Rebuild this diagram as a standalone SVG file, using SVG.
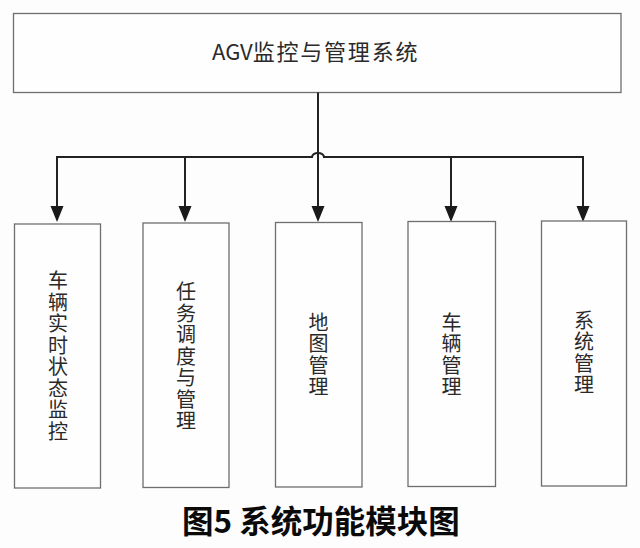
<svg xmlns="http://www.w3.org/2000/svg" width="640" height="548" viewBox="0 0 640 548">
  <style>
    .box{fill:#fefefe;stroke:#6e6e6e;stroke-width:1.3}
    .lbl{font-family:"Noto Sans CJK SC","Noto Sans",sans-serif;font-size:20px;fill:#2a2a2a;writing-mode:vertical-rl;letter-spacing:1.5px}
    .ttl{font-family:"Noto Sans CJK SC","Noto Sans",sans-serif;font-size:22px;fill:#2a2a2a}
    .cap{font-family:"Noto Sans CJK SC","Noto Sans",sans-serif;font-size:31.5px;font-weight:bold;fill:#0a0a0a}
    .ln{fill:none;stroke:#222;stroke-width:2}
  </style>
  <defs>
    <marker id="ah" viewBox="0 -7 16 14" refX="0" refY="0" markerWidth="16" markerHeight="14" markerUnits="userSpaceOnUse" orient="auto">
      <path d="M0,-6.5 L16,0 L0,6.5 Z" fill="#1a1a1a"/>
    </marker>
  </defs>
  <rect width="640" height="548" fill="#fdfdfd"/>

  <g id="root">
    <rect class="box" x="13.5" y="13.5" width="607.5" height="79"/>
    <text class="ttl" x="212" y="60">AGV<tspan letter-spacing="1.8">监控与管理系统</tspan></text>
  </g>

  <g id="connectors">
    <path class="ln" d="M318,92.5 V206" marker-end="url(#ah)"/>
    <path class="ln" d="M57,206 V157 H312 A6,4 0 0 1 324,157 H583 V206" marker-end="url(#ah)"/>
    <path class="ln" d="M57,157 V206" marker-end="url(#ah)"/>
    <path class="ln" d="M185,157 V206" marker-end="url(#ah)"/>
    <path class="ln" d="M451,157 V206" marker-end="url(#ah)"/>
  </g>

  <g id="n1">
    <rect class="box" x="14.5" y="224" width="86" height="264"/>
    <text class="lbl" x="58" y="270.5">车辆实时状态监控</text>
  </g>
  <g id="n2">
    <rect class="box" x="143" y="223" width="86" height="264.5"/>
    <text class="lbl" x="186" y="281.5">任务调度与管理</text>
  </g>
  <g id="n3">
    <rect class="box" x="275.5" y="222.5" width="86.5" height="264.5"/>
    <text class="lbl" x="318.5" y="312">地图管理</text>
  </g>
  <g id="n4">
    <rect class="box" x="408" y="221.5" width="87.5" height="265"/>
    <text class="lbl" x="451.5" y="312">车辆管理</text>
  </g>
  <g id="n5">
    <rect class="box" x="541.5" y="221" width="85" height="265"/>
    <text class="lbl" x="584" y="310">系统管理</text>
  </g>

  <text class="cap" x="182" y="533">图5 系统功能模块图</text>
</svg>
